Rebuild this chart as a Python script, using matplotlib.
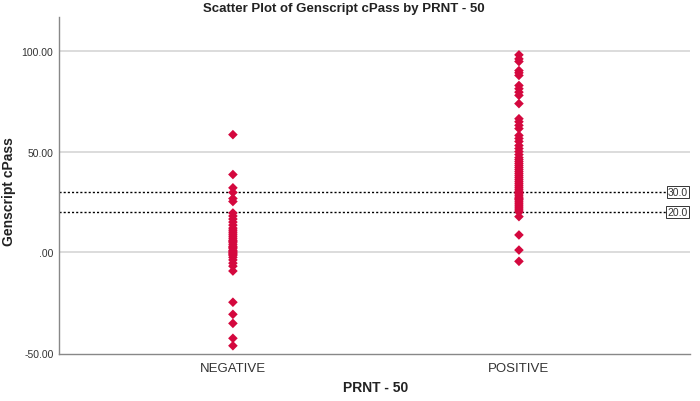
import matplotlib
matplotlib.use("Agg")
import matplotlib.pyplot as plt

plt.rcParams['font.family'] = ['Liberation Sans', 'DejaVu Sans']

categories = ["NEGATIVE", "POSITIVE"]
negative_values = [58.4, 38.6, 32.0, 29.7, 26.7, 25.2,
                   19.5, 18.0, 16.5, 15.0, 13.5, 12.0, 11.0, 10.0, 9.0, 8.0,
                   7.0, 6.0, 5.5, 5.0, 4.0, 3.0, 2.5, 2.0, 1.0, 0.5, 0.0,
                   -0.5, -1.0, -1.5, -2.5, -3.8, -5.4, -6.9, -9.3,
                   -24.8, -30.8, -35.3, -42.7, -46.4]
positive_values = [98.0, 96.0, 94.7, 90.2, 89.1, 87.8, 82.8, 81.2, 79.5, 77.9,
                   73.8, 66.3, 64.8, 63.0, 61.4,
                   58.0, 56.5, 55.0, 53.0, 51.5, 50.0, 48.5, 47.0, 46.0, 45.0,
                   44.0, 43.0, 42.0, 41.0, 40.0, 39.0, 38.0, 37.0, 36.0, 35.0,
                   34.0, 33.0, 32.0, 31.0, 30.0, 29.5, 29.0, 28.0, 27.0, 26.5,
                   26.0, 25.0, 24.0, 23.0, 22.0, 21.0, 20.0, 17.7,
                   8.6, 1.1, -4.5]
ref_lines = [30.0, 20.0]
y_ticks = [-50, 0, 50, 100]
y_tick_labels = ["-50.00", ".00", "50.00", "100.00"]

fig = plt.figure(figsize=(7, 4.02), dpi=100)
ax = fig.add_axes([59/700, 1-355/402, (690-59)/700, (355-18)/402])

marker_color = '#D4083E'
for i, vals in enumerate([negative_values, positive_values]):
    ax.scatter([i + 1] * len(vals), vals, marker='D', s=24, color=marker_color,
               edgecolors='none', zorder=3)

ax.set_xlim(0.392, 2.598)
ax.set_ylim(-50.5, 116.8)

for g in [0, 50, 100]:
    ax.axhline(g, color='#D9D9D9', lw=1.3, zorder=1)

for r in ref_lines:
    ax.axhline(r, color='black', lw=1.0, ls=(0, (1.5, 1.5)), zorder=2)
    ax.text(2.59, r, f"{r:.1f}", ha='right', va='center', fontsize=7.5,
            color='#333333', zorder=4,
            bbox=dict(boxstyle='square,pad=0.1', fc='white', ec='#333333', lw=0.7))

ax.set_xticks([1, 2])
ax.set_xticklabels(categories, fontsize=9.5, color='#333333')
ax.set_yticks(y_ticks)
ax.set_yticklabels(y_tick_labels, fontsize=7.5, color='#333333')
ax.tick_params(axis='both', length=0, pad=4)
ax.tick_params(axis='x', pad=6)

for s in ['top', 'right']:
    ax.spines[s].set_visible(False)
for s in ['left', 'bottom']:
    ax.spines[s].set_color('#888888')
    ax.spines[s].set_linewidth(1.0)

fig.text(344/700, 1-9/402, "Scatter Plot of Genscript cPass by PRNT - 50",
         ha='center', va='center', fontsize=9.5, fontweight='bold', color='#222222')
fig.text(376/700, 1-388/402, "PRNT - 50", ha='center', va='center',
         fontsize=10, fontweight='bold', color='#222222')
fig.text(9/700, 1-192/402, "Genscript cPass", ha='center', va='center',
         rotation=90, fontsize=10, fontweight='bold', color='#222222')

fig.savefig("out.png", dpi=100)
